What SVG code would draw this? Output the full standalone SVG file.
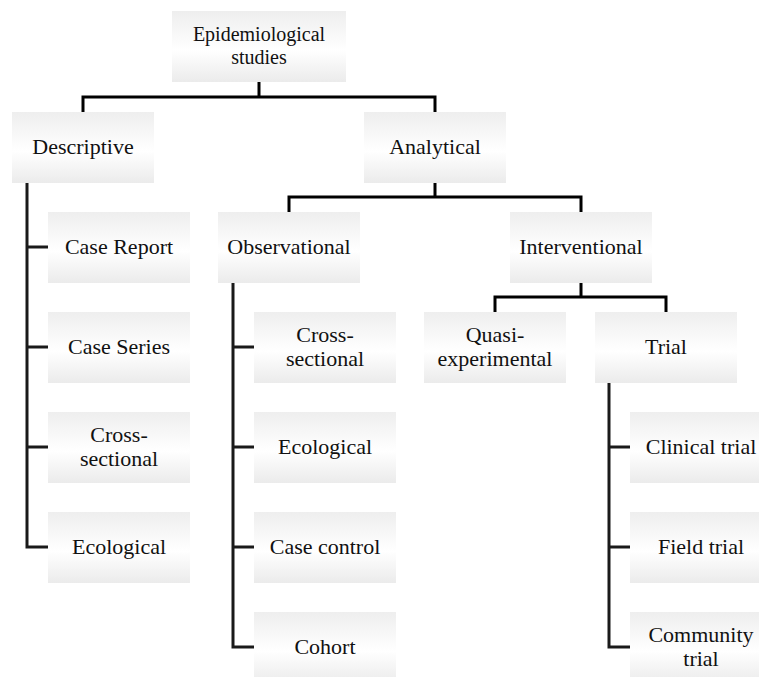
<svg xmlns="http://www.w3.org/2000/svg" width="759" height="677" viewBox="0 0 759 677">
<defs>
<linearGradient id="g" x1="0" y1="0" x2="0" y2="1">
<stop offset="0" stop-color="#eeeeee"/>
<stop offset="0.55" stop-color="#ffffff"/>
<stop offset="1" stop-color="#ebebeb"/>
</linearGradient>
</defs>
<style>
.b{fill:url(#g);}
.t{font-family:"Liberation Serif","Times New Roman",serif;font-size:22px;fill:#111;text-anchor:middle;}
.s{font-size:20px;}
.c{fill:none;stroke:#000;stroke-width:3;}
.k{fill:none;stroke:#1a1a1a;stroke-width:3;}
</style>
<rect width="759" height="677" fill="#fff"/>
<g id="connectors">
<path class="c" d="M259 82V97M83 112V97H435V112"/>
<path class="c" d="M435 183V197M289 212V197H581V212"/>
<path class="c" d="M581 282V297M495 312V297H666V312"/>
<path class="k" d="M27 183V547H48M27 247H48M27 347H48M27 447H48"/>
<path class="k" d="M233 282V647H254M233 347H254M233 447H254M233 547H254"/>
<path class="k" d="M609 382V647H630M609 447H630M609 547H630"/>
</g>
<g id="n-epi"><rect class="b" x="172" y="11" width="174" height="71"/><text class="t s" x="259" y="41">Epidemiological<tspan x="259" dy="22.5">studies</tspan></text></g>
<g id="n-desc"><rect class="b" x="12" y="112" width="142" height="71"/><text class="t" x="83" y="154">Descriptive</text></g>
<g id="n-anal"><rect class="b" x="364" y="112" width="142" height="71"/><text class="t" x="435" y="154">Analytical</text></g>
<g id="n-caserep"><rect class="b" x="48" y="212" width="142" height="71"/><text class="t" x="119" y="254">Case Report</text></g>
<g id="n-caseser"><rect class="b" x="48" y="312" width="142" height="71"/><text class="t" x="119" y="354">Case Series</text></g>
<g id="n-dcross"><rect class="b" x="48" y="412" width="142" height="71"/><text class="t" x="119" y="441.8">Cross-<tspan x="119" dy="24.6">sectional</tspan></text></g>
<g id="n-deco"><rect class="b" x="48" y="512" width="142" height="71"/><text class="t" x="119" y="554">Ecological</text></g>
<g id="n-obs"><rect class="b" x="218" y="212" width="142" height="71"/><text class="t" x="289" y="254">Observational</text></g>
<g id="n-int"><rect class="b" x="510" y="212" width="142" height="71"/><text class="t" x="581" y="254">Interventional</text></g>
<g id="n-ocross"><rect class="b" x="254" y="312" width="142" height="71"/><text class="t" x="325" y="341.8">Cross-<tspan x="325" dy="24.6">sectional</tspan></text></g>
<g id="n-oeco"><rect class="b" x="254" y="412" width="142" height="71"/><text class="t" x="325" y="454">Ecological</text></g>
<g id="n-cc"><rect class="b" x="254" y="512" width="142" height="71"/><text class="t" x="325" y="554">Case control</text></g>
<g id="n-coh"><rect class="b" x="254" y="612" width="142" height="71"/><text class="t" x="325" y="654">Cohort</text></g>
<g id="n-quasi"><rect class="b" x="424" y="312" width="142" height="71"/><text class="t" x="495" y="341.8">Quasi-<tspan x="495" dy="24.6">experimental</tspan></text></g>
<g id="n-trial"><rect class="b" x="595" y="312" width="142" height="71"/><text class="t" x="666" y="354">Trial</text></g>
<g id="n-clin"><rect class="b" x="630" y="412" width="142" height="71"/><text class="t" x="701" y="454">Clinical trial</text></g>
<g id="n-field"><rect class="b" x="630" y="512" width="142" height="71"/><text class="t" x="701" y="554">Field trial</text></g>
<g id="n-comm"><rect class="b" x="630" y="612" width="142" height="71"/><text class="t" x="701" y="641.8">Community<tspan x="701" dy="24.6">trial</tspan></text></g>
</svg>
